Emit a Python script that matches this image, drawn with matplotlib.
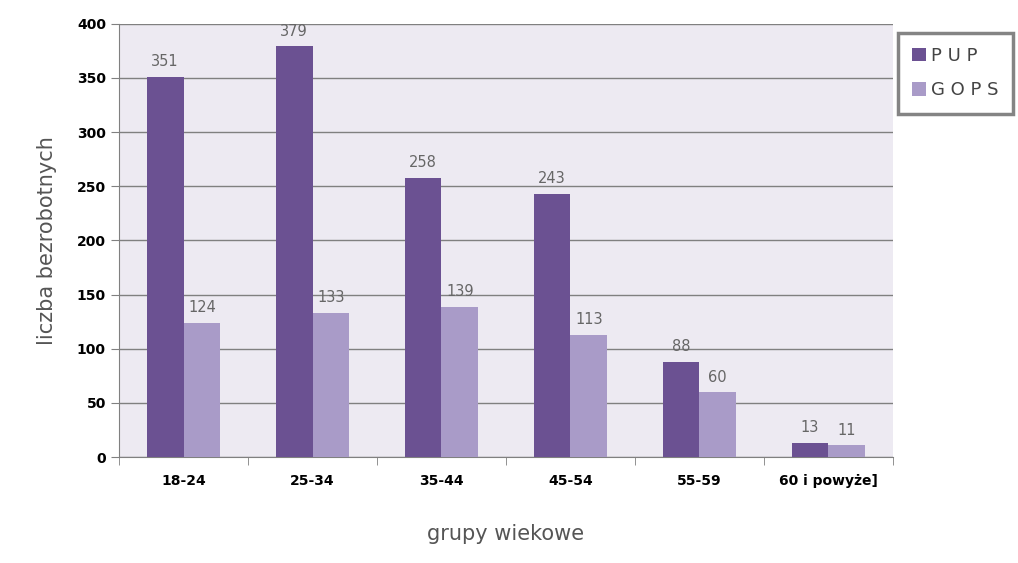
import matplotlib
matplotlib.use("Agg")
import matplotlib.pyplot as plt
import numpy as np

# dane
grupy = ["18-24", "25-34", "35-44", "45-54", "55-59", "60 i powyże]"]
pup = [351, 379, 258, 243, 88, 13]
gops = [124, 133, 139, 113, 60, 11]

c_pup = "#6B5192"
c_gops = "#A99BC8"

fig = plt.figure(figsize=(10.18, 5.63), dpi=100)
ax = fig.add_axes([0.117, 0.188, 0.76, 0.77])
ax.set_facecolor("#EDEAF2")

x = np.arange(len(grupy))
w = 0.285
b1 = ax.bar(x - w / 2, pup, w, color=c_pup, label="P U P", zorder=3)
b2 = ax.bar(x + w / 2, gops, w, color=c_gops, label="G O P S", zorder=3)

for bars, vals in ((b1, pup), (b2, gops)):
    for bar, v in zip(bars, vals):
        ax.text(bar.get_x() + bar.get_width() / 2, v + 7, str(v),
                ha="center", va="bottom", fontsize=10.5, color="#666666")

ax.set_xlim(-0.5, len(grupy) - 0.5)
ax.set_ylim(0, 400)
ax.set_yticks(range(0, 401, 50))
ax.yaxis.grid(True, color="#808080", linewidth=1, zorder=1)
ax.set_axisbelow(True)

ax.set_xticks(x)
ax.set_xticklabels(grupy, fontsize=10, fontweight="bold")
ax.tick_params(axis="x", which="major", length=0, pad=12)
ax.set_xticks(np.arange(-0.5, len(grupy)), minor=True)
ax.tick_params(axis="x", which="minor", length=6, color="#808080")
ax.tick_params(axis="y", length=6, color="#808080", labelsize=10)
for lbl in ax.get_yticklabels():
    lbl.set_fontweight("bold")

for s in ["top", "right"]:
    ax.spines[s].set_visible(False)
for s in ["left", "bottom"]:
    ax.spines[s].set_color("#808080")

ax.set_ylabel("liczba bezrobotnych", fontsize=15, color="#555555",
              labelpad=14)
fig.text(0.497, 0.04, "grupy wiekowe", ha="center", fontsize=15,
         color="#555555")

leg = fig.legend(loc="upper left", bbox_to_anchor=(0.882, 0.942),
                 fontsize=13, frameon=True, fancybox=False, shadow=False,
                 handlelength=0.75, handleheight=0.75, handletextpad=0.3,
                 borderpad=0.8, labelspacing=0.9, borderaxespad=0)
leg.get_frame().set_edgecolor("#666666")
leg.get_frame().set_linewidth(2.5)
for t in leg.get_texts():
    t.set_color("#444444")

plt.savefig("out.png", dpi=100)
